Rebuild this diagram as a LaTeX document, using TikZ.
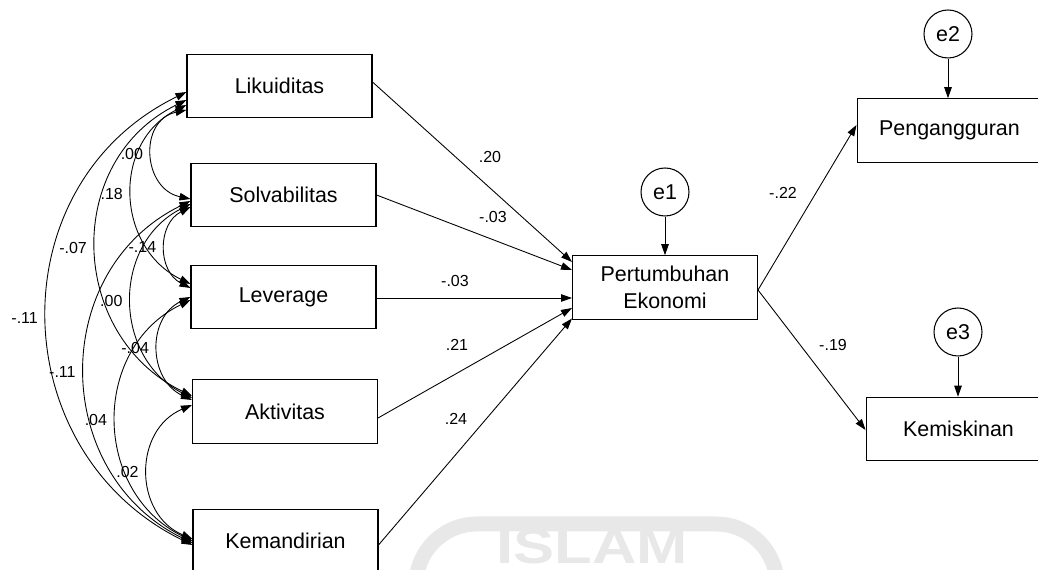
\documentclass[tikz,border=0pt]{standalone}
\usepackage{fontspec}
\setmainfont{Liberation Sans}
\usetikzlibrary{calc,arrows.meta,positioning}
\definecolor{ink}{HTML}{000000}
\definecolor{wmgray}{HTML}{E8E8E8}
\tikzset{
  var/.style={draw=ink, line width=0.6pt, minimum width=3.7cm, minimum height=1.27cm, inner sep=0pt, align=center, font=\fontsize{12.2}{15.3}\selectfont},
  err/.style={draw=ink, circle, line width=0.6pt, minimum size=0.96cm, inner sep=0pt, font=\fontsize{12.2}{15.3}\selectfont},
  reg/.style={draw=ink, line width=0.5pt, -{Triangle[length=0.22cm,width=0.15cm]}},
  cov/.style={draw=ink, line width=0.5pt, {Triangle[length=0.22cm,width=0.15cm]}-{Triangle[length=0.22cm,width=0.15cm]}},
  est/.style={text=ink, font=\fontsize{9.1}{11}\selectfont, inner sep=0pt},
}

\begin{document}
\begin{tikzpicture}[x=0.02cm,y=0.02cm]
\useasboundingbox (0,0) rectangle (1038,570);
\clip (0,0) rectangle (1038,570);

% faint watermark
\draw[draw=wmgray, line width=0.3cm, rounded corners=1.22cm] (416,46) rectangle (777,-100);
\node[text=wmgray, font=\fontsize{28}{28}\bfseries\selectfont, inner sep=0pt, xscale=1.25, transform shape] (wm) at (592,23) {ISLAM};

% observed variables
\node[var] (lik) at (279.5,484) {Likuiditas};
\node[var] (sol) at (283.5,375) {Solvabilitas};
\node[var] (lev) at (283.5,273) {Leverage};
\node[var] (akt) at (285,158.5) {Aktivitas};
\node[var] (kmd) at (285.5,29) {Kemandirian};
\node[var] (pe) at (665,282.5) {Pertumbuhan\\Ekonomi};
\node[var] (pgg) at (949.5,439.5) {Pengangguran};
\node[var] (kms) at (958.5,141) {Kemiskinan};

% error terms
\node[err] (e1) at (665,378) {e1};
\node[err] (e2) at (948,536) {e2};
\node[err] (e3) at (958,238) {e3};

% paths to growth
\foreach \s/\ys/\ye in {lik/4/25.5, sol/0/17.5, lev/-1/-10.5, akt/-6.5/-20.5, kmd/-4/-31}
  \draw[reg] ($(\s.east)+(0,\ys)$) -- ($(pe.west)+(0,\ye)$);

\node[est] (w1) at (490,413) {.20};
\node[est] (w2) at (493,353) {-.03};
\node[est] (w3) at (455,289) {-.03};
\node[est] (w4) at (457,225) {.21};
\node[est] (w5) at (456,151) {.24};

% paths out of growth
\draw[reg] ($(pe.east)+(0,-2.5)$) -- ($(pgg.west)+(0,5.5)$);
\draw[reg] ($(pe.east)+(0,-2.5)$) -- ($(kms.west)+(0,-1)$);
\node[est] (w6) at (783,377) {-.22};
\node[est] (w7) at (833,225) {-.19};

\draw[reg] (e1) -- (pe);
\draw[reg] (e2.south) -- (e2.south |- pgg.north);
\draw[reg] (e3.south) -- (e3.south |- kms.north);

% covariances
\foreach \a/\ya/\b/\yb/\o/\i/\lo/\v in {
  lik/-24/sol/-4/192/168/1.41/.00,
  lik/-19/lev/13/206/154/1.19/.18,
  lik/-14/akt/15.5/206/154/1.19/-.07,
  lik/-6/kmd/-4/206/154/1.19/-.11,
  sol/-12/lev/9/207/153/1.18/-.14,
  sol/-9/akt/13.5/207/153/1.17/.00,
  sol/-6/kmd/-2/206/154/1.18/-.11,
  lev/0/akt/11.5/205/155/1.20/-.04,
  lev/-3/kmd/0/206/154/1.18/.04,
  akt/6.5/kmd/2/203/157/1.22/.02}
  \draw[cov] ($(\a.west)+(0,\ya)$) to[out=\o,in=\i,looseness=\lo]
    node[est,pos=0.5,left=0.18cm] (c-\a-\b) {\v} ($(\b.west)+(0,\yb)$);
\end{tikzpicture}
\end{document}
